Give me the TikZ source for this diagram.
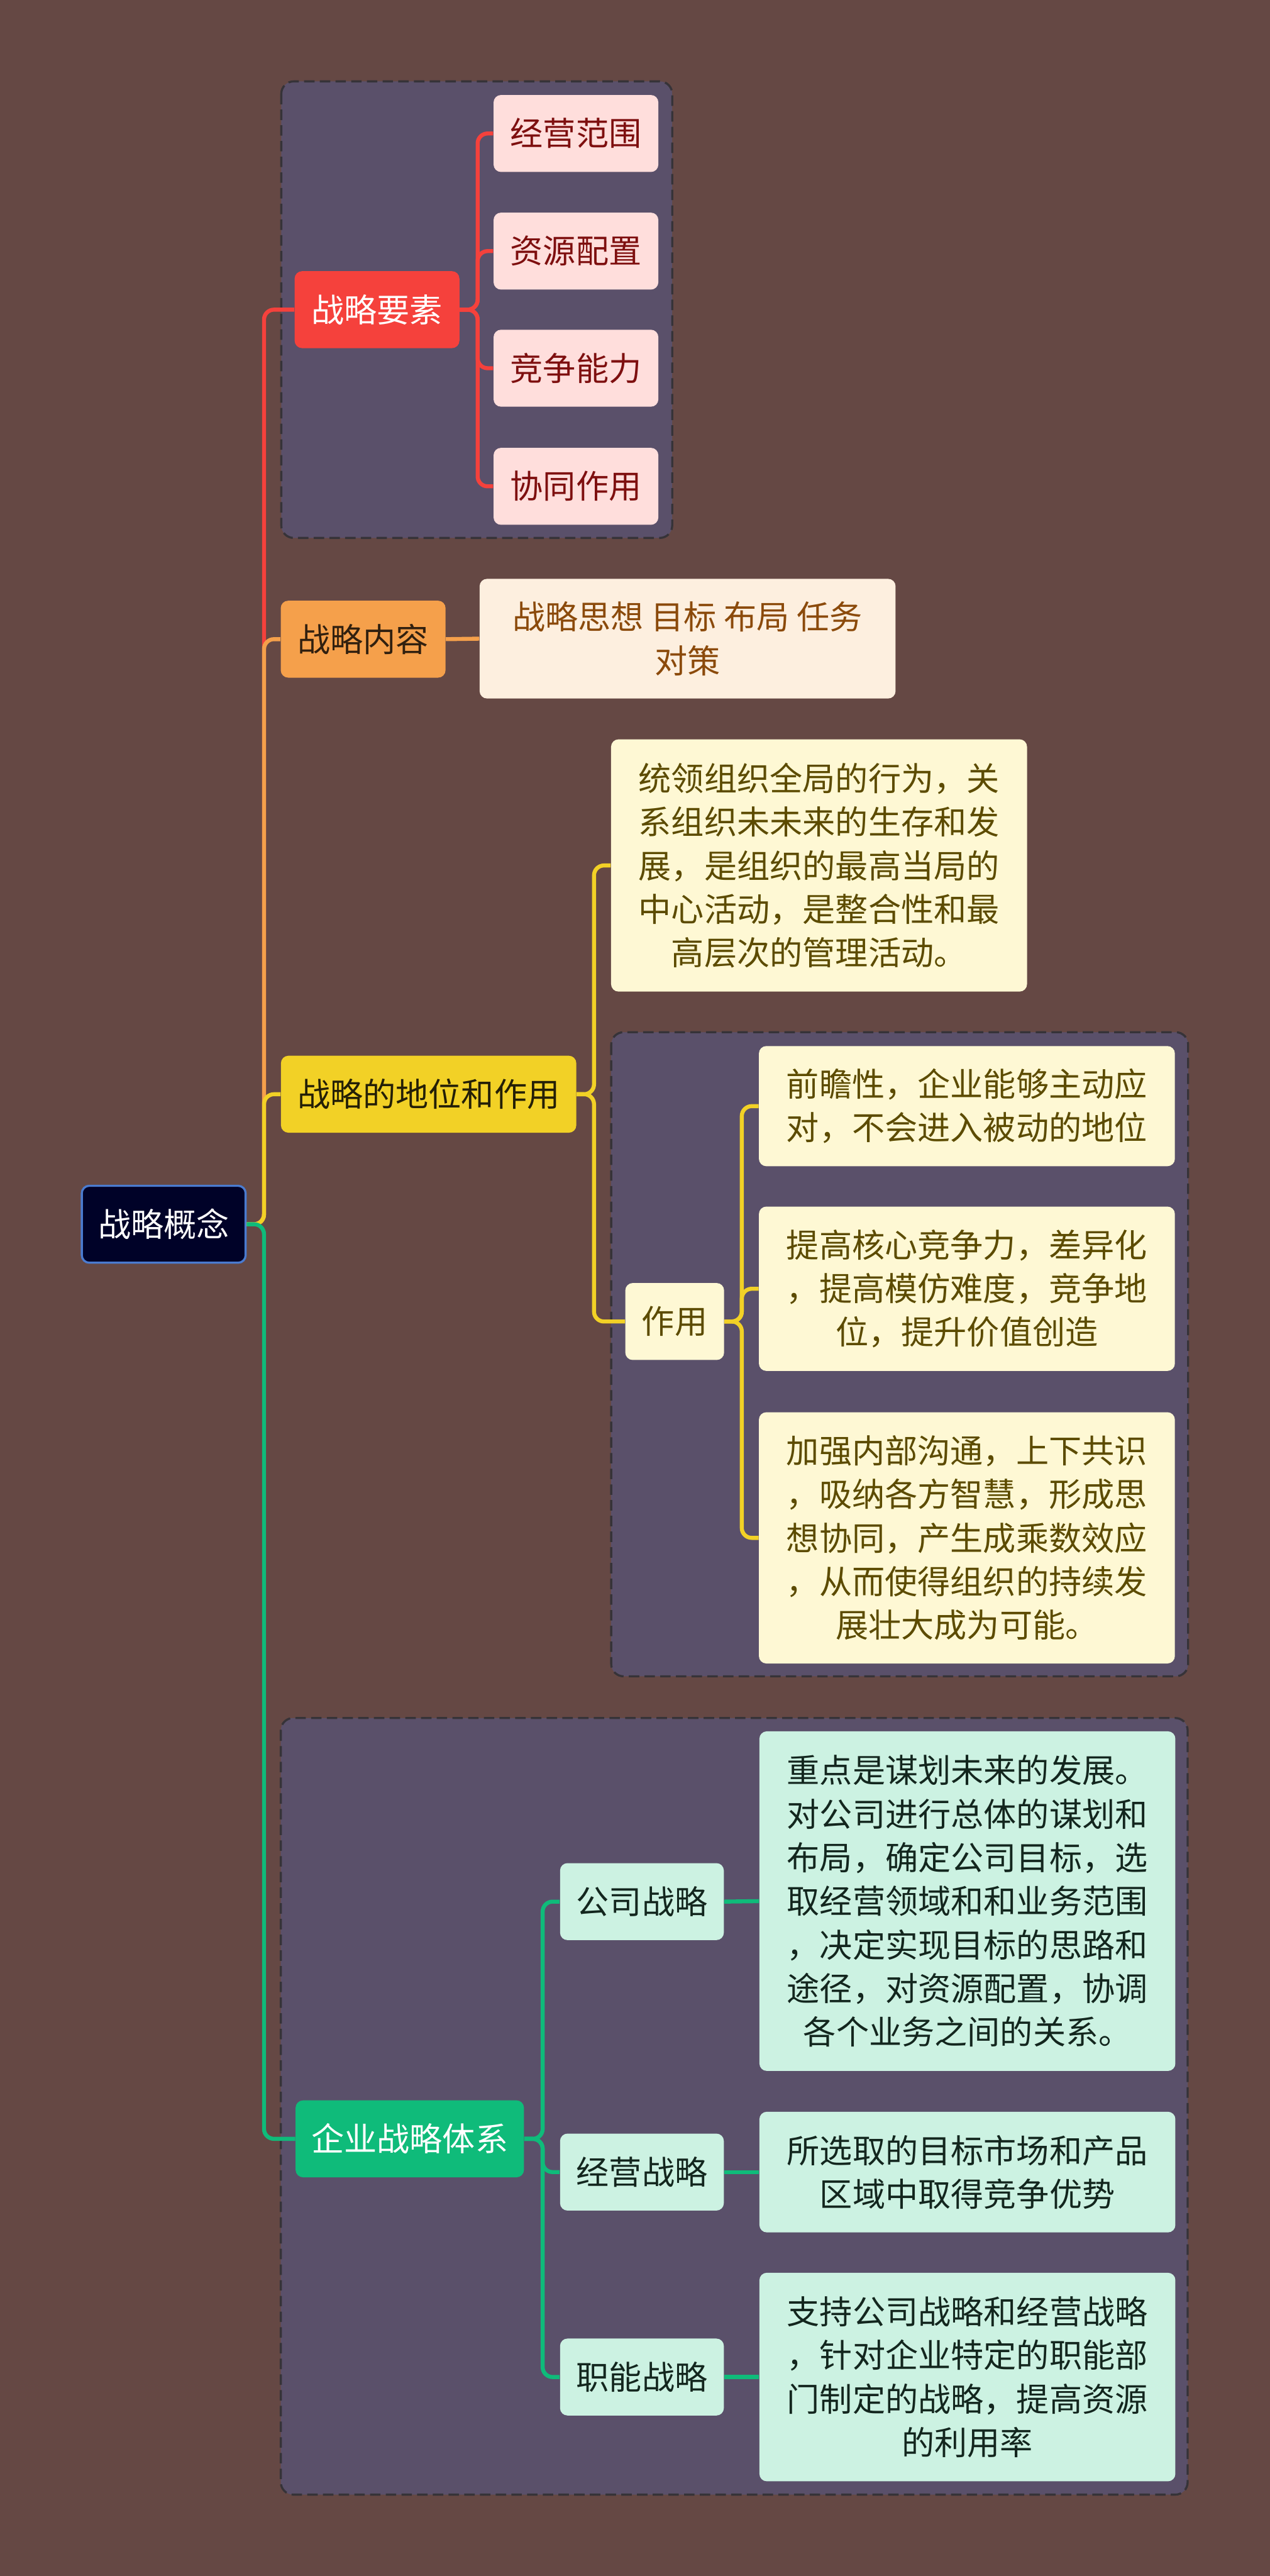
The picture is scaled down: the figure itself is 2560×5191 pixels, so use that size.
\documentclass[tikz,border=0pt]{standalone}
\usepackage{fontspec}
\setmainfont{Noto Sans CJK SC}
\usetikzlibrary{positioning}
\definecolor{bgbrown}{HTML}{654844}
\definecolor{zonefill}{HTML}{5A506A}
\definecolor{zoneline}{HTML}{363338}
\definecolor{rootfill}{HTML}{000228}
\definecolor{rootline}{HTML}{4A7BD0}
\definecolor{redmain}{HTML}{F5413C}
\definecolor{redleaf}{HTML}{FFDEDC}
\definecolor{redtext}{HTML}{7E0F0F}
\definecolor{orangemain}{HTML}{F5A04B}
\definecolor{orangeleaf}{HTML}{FDEFDF}
\definecolor{orangetext}{HTML}{8B4A0B}
\definecolor{yellowmain}{HTML}{F2D126}
\definecolor{yellowleaf}{HTML}{FEF8D4}
\definecolor{yellowtext}{HTML}{5C4B00}
\definecolor{greenmain}{HTML}{0FBB7A}
\definecolor{greenleaf}{HTML}{CCF2E2}
\definecolor{greentext}{HTML}{13261E}

\begin{document}
\begin{tikzpicture}[
  x=0.01cm, y=-0.01cm,
  every node/.style={font=\fontsize{18.8pt}{25pt}\selectfont, align=center,
                     inner sep=0pt, rounded corners=0.15cm},
  zone/.style={draw=zoneline, fill=zonefill, line width=1.2pt,
               dash pattern=on 6pt off 3pt, rounded corners=0.25cm},
  topic/.style={minimum width=3.32cm, minimum height=1.55cm},
  sub/.style={minimum width=3.32cm, minimum height=1.55cm},
  note/.style={minimum width=8.38cm},
  link/.style={line width=2.3pt, rounded corners=0.2cm}
]
  \fill[bgbrown] (0,0) rectangle (2560,5191);
  \useasboundingbox (0,0) rectangle (2560,5191);

  % Dashed zones
  \draw[zone] (567,164) rectangle (1355,1084);
  \draw[zone] (1232,2080) rectangle (2395,3378);
  \draw[zone] (566,3462) rectangle (2394,5027);

  % Root
  \node[topic, fill=rootfill, draw=rootline, line width=1.2pt, text=white,
        minimum width=3.30cm] (gainian) at (330,2467) {战略概念};

  % Branch 1 - elements
  \node[topic, fill=redmain, text=white] (yaosu) at (760,624) {战略要素};
  \node[sub, fill=redleaf, text=redtext] (fanwei) at (1161,269) {经营范围};
  \node[sub, fill=redleaf, text=redtext] (peizhi) at (1161,506) {资源配置};
  \node[sub, fill=redleaf, text=redtext] (nengli) at (1161,742) {竞争能力};
  \node[sub, fill=redleaf, text=redtext] (xietong) at (1161,980) {协同作用};

  % Branch 2 - content
  \node[topic, fill=orangemain, text=black!80!orangemain] (neirong) at (732,1288) {战略内容};
  \node[note, fill=orangeleaf, text=orangetext, minimum height=2.41cm] (duice) at (1386,1287)
    {战略思想 目标 布局 任务\\对策};

  % Branch 3 - role
  \node[topic, fill=yellowmain, text=black!85!yellowmain, minimum width=5.95cm] (diwei) at (864,2205) {战略的地位和作用};
  \node[note, fill=yellowleaf, text=yellowtext, minimum height=5.08cm] (tongling) at (1651,1744)
    {统领组织全局的行为，关\\系组织未未来的生存和发\\展，是组织的最高当局的\\中心活动，是整合性和最\\高层次的管理活动。};
  \node[fill=yellowleaf, text=yellowtext, minimum width=1.99cm, minimum height=1.55cm] (zuoyong) at (1360,2663) {作用};
  \node[note, fill=yellowleaf, text=yellowtext, minimum height=2.42cm] (qianzhan) at (1949,2229)
    {前瞻性，企业能够主动应\\对，不会进入被动的地位};
  \node[note, fill=yellowleaf, text=yellowtext, minimum height=3.31cm] (hexin) at (1949,2597)
    {提高核心竞争力，差异化\\，提高模仿难度，竞争地\\位，提升价值创造};
  \node[note, fill=yellowleaf, text=yellowtext, minimum height=5.06cm] (goutong) at (1949,3099)
    {加强内部沟通，上下共识\\，吸纳各方智慧，形成思\\想协同，产生成乘数效应\\，从而使得组织的持续发\\展壮大成为可能。};

  % Branch 4 - system
  \node[topic, fill=greenmain, text=white, minimum width=4.60cm] (tixi) at (826,4310) {企业战略体系};
  \node[sub, fill=greenleaf, text=greentext, minimum width=3.30cm] (gongsi) at (1294,3832) {公司战略};
  \node[sub, fill=greenleaf, text=greentext, minimum width=3.30cm] (jingying) at (1294,4377) {经营战略};
  \node[sub, fill=greenleaf, text=greentext, minimum width=3.30cm] (zhineng) at (1294,4790) {职能战略};
  \node[note, fill=greenleaf, text=greentext, minimum height=6.84cm] (gongsinote) at (1950,3831)
    {重点是谋划未来的发展。\\对公司进行总体的谋划和\\布局，确定公司目标，选\\取经营领域和和业务范围\\，决定实现目标的思路和\\途径，对资源配置，协调\\各个业务之间的关系。};
  \node[note, fill=greenleaf, text=greentext, minimum height=2.43cm] (jingyingnote) at (1950,4377)
    {所选取的目标市场和产品\\区域中取得竞争优势};
  \node[note, fill=greenleaf, text=greentext, minimum height=4.20cm] (zhinengnote) at (1950,4790)
    {支持公司战略和经营战略\\，针对企业特定的职能部\\门制定的战略，提高资源\\的利用率};

  % Connections from root
  \draw[link, redmain] (gainian.east) -- ++(35,0) |- (yaosu.west);
  \draw[link, orangemain] (gainian.east) -- ++(35,0) |- (neirong.west);
  \draw[link, yellowmain] (gainian.east) -- ++(35,0) |- (diwei.west);
  \draw[link, greenmain] (gainian.east) -- ++(35,0) |- (tixi.west);

  % Connections inside branches
  \foreach \leaf in {fanwei, peizhi, nengli, xietong}
    \draw[link, redmain] (yaosu.east) -- ++(36,0) |- (\leaf.west);
  \draw[link, orangemain] (neirong.east) -- (duice.west);
  \foreach \leaf in {tongling, zuoyong}
    \draw[link, yellowmain] (diwei.east) -- ++(35,0) |- (\leaf.west);
  \foreach \leaf in {qianzhan, hexin, goutong}
    \draw[link, yellowmain] (zuoyong.east) -- ++(35,0) |- (\leaf.west);
  \foreach \leaf in {gongsi, jingying, zhineng}
    \draw[link, greenmain] (tixi.east) -- ++(37,0) |- (\leaf.west);
  \draw[link, greenmain] (gongsi.east) -- (gongsinote.west);
  \draw[link, greenmain] (jingying.east) -- (jingyingnote.west);
  \draw[link, greenmain] (zhineng.east) -- (zhinengnote.west);
\end{tikzpicture}
\end{document}
